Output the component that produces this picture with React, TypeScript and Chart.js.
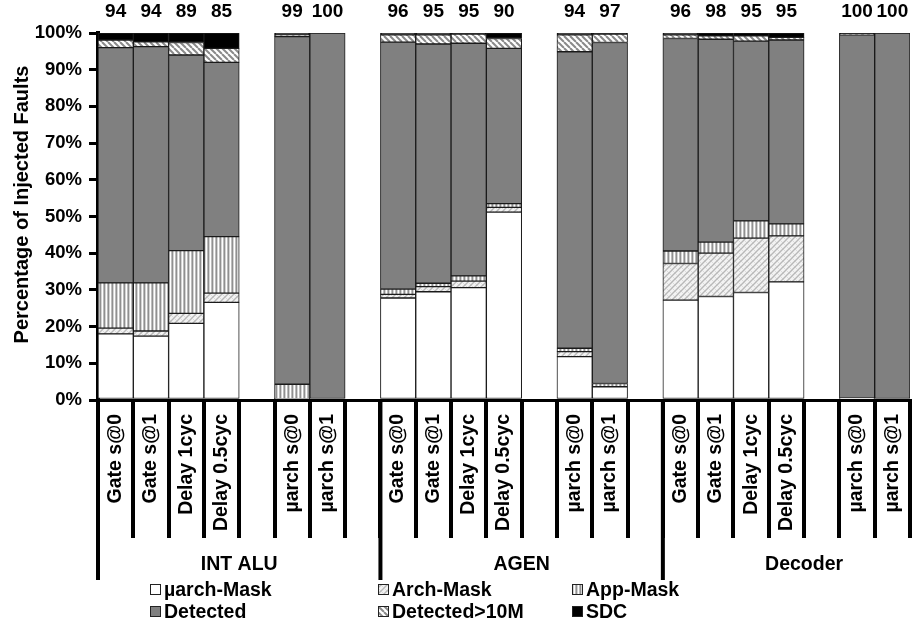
import { useEffect, useRef } from "react";
import { Chart, registerables } from "chart.js";

Chart.register(...registerables);

const categories = [
  "Gate s@0", "Gate s@1", "Delay 1cyc", "Delay 0.5cyc", "", "µarch s@0", "µarch s@1", "",
  "Gate s@0", "Gate s@1", "Delay 1cyc", "Delay 0.5cyc", "", "µarch s@0", "µarch s@1", "",
  "Gate s@0", "Gate s@1", "Delay 1cyc", "Delay 0.5cyc", "", "µarch s@0", "µarch s@1",
];
const groups = ["INT ALU", "AGEN", "Decoder"];
const topLabels = [94, 94, 89, 85, null, 99, 100, null, 96, 95, 95, 90, null, 94, 97, null, 96, 98, 95, 95, null, 100, 100];

const uarchMask = [18.0, 17.4, 20.9, 26.6, null, 0.3, null, null, 27.8, 29.5, 30.6, 51.2, null, 11.8, 3.6, null, 27.2, 28.2, 29.3, 32.2, null, 0.5, null];
const archMask = [1.6, 1.4, 2.7, 2.5, null, null, null, null, 1.0, 1.4, 1.8, 1.3, null, 1.4, null, null, 10.0, 11.8, 14.8, 12.5, null, null, null];
const appMask = [12.3, 13.1, 17.1, 15.4, null, 4.0, null, null, 1.4, 0.9, 1.4, 1.0, null, 0.9, 0.9, null, 3.4, 3.0, 4.7, 3.3, null, null, null];
const detected = [64.1, 64.4, 53.3, 47.5, null, 94.7, 100, null, 67.3, 65.2, 63.4, 42.3, null, 80.8, 92.9, null, 57.9, 55.3, 49.0, 50.1, null, 99.0, 100];
const detected10M = [2.1, 1.3, 3.4, 3.8, null, 0.5, null, null, 2.0, 2.5, 2.5, 2.7, null, 4.6, 2.3, null, 1.0, 0.9, 1.4, 0.7, null, 0.3, null];
const sdc = [1.9, 2.4, 2.6, 4.2, null, 0.5, null, null, 0.5, 0.5, 0.3, 1.5, null, 0.5, 0.3, null, 0.5, 0.8, 0.8, 1.2, null, 0.2, null];

const seriesNames = ["µarch-Mask", "Arch-Mask", "App-Mask", "Detected", "Detected>10M", "SDC"];
const yAxisTitle = "Percentage of Injected Faults";

const FONT = '"Liberation Sans", Arial, Helvetica, sans-serif';

function tile(ctx: CanvasRenderingContext2D, s: number, draw: (c: CanvasRenderingContext2D, s: number) => void) {
  const cv = document.createElement("canvas");
  cv.width = s;
  cv.height = s;
  const c = cv.getContext("2d")!;
  draw(c, s);
  return ctx.createPattern(cv, "repeat")!;
}

function diag(c: CanvasRenderingContext2D, s: number, dir: "/" | "\\", color: string, w: number) {
  c.strokeStyle = color;
  c.lineWidth = w;
  for (let k = -1; k <= 1; k++) {
    c.beginPath();
    if (dir === "\\") {
      c.moveTo(k * s, 0);
      c.lineTo(k * s + s, s);
    } else {
      c.moveTo(k * s, s);
      c.lineTo(k * s + s, 0);
    }
    c.stroke();
  }
}

export default function App() {
  const ref = useRef<HTMLCanvasElement | null>(null);

  useEffect(() => {
    document.body.style.margin = "0";
    const canvas = ref.current!;
    const ctx = canvas.getContext("2d")!;

    const archPat = tile(ctx, 6, (c, s) => {
      c.fillStyle = "#f3f3f3";
      c.fillRect(0, 0, s, s);
      diag(c, s, "\\", "#dcdcdc", 1);
      diag(c, s, "/", "#b8b8b8", 1.3);
    });
    const appPat = tile(ctx, 4, (c) => {
      c.fillStyle = "#909090"; c.fillRect(0, 0, 1, 4);
      c.fillStyle = "#d4d4d4"; c.fillRect(1, 0, 1, 4);
      c.fillStyle = "#ffffff"; c.fillRect(2, 0, 1, 4);
      c.fillStyle = "#bcbcbc"; c.fillRect(3, 0, 1, 4);
    });
    const d10Pat = tile(ctx, 6, (c, s) => {
      c.fillStyle = "#ffffff";
      c.fillRect(0, 0, s, s);
      diag(c, s, "\\", "#8a8a8a", 2);
    });

    const fills: (string | CanvasPattern)[] = ["#ffffff", archPat, appPat, "#808080", d10Pat, "#000000"];
    const values = [uarchMask, archMask, appMask, detected, detected10M, sdc];

    const overlay = {
      id: "overlay",
      afterDraw(chart: any) {
        const c: CanvasRenderingContext2D = chart.ctx;
        const xs = chart.scales.x;
        const ca = chart.chartArea;
        c.save();
        c.fillStyle = "#000";
        c.font = `bold 19px ${FONT}`;
        c.textAlign = "center";
        c.textBaseline = "middle";
        topLabels.forEach((v, i) => {
          if (v == null) return;
          c.fillText(String(v), xs.getPixelForValue(i), ca.top - 21);
        });
        // group separators
        c.strokeStyle = "#000";
        c.lineWidth = 4;
        groups.forEach((_, gi) => {
          const bx = xs.getPixelForValue(gi * 8 - 0.5);
          c.beginPath();
          c.moveTo(bx, ca.bottom);
          c.lineTo(bx, ca.bottom + 180);
          c.stroke();
        });
        // group labels
        c.font = `bold 19.5px ${FONT}`;
        groups.forEach((g, gi) => {
          c.fillText(g, xs.getPixelForValue(gi * 8 + 3.5), ca.bottom + 165);
        });
        // y title
        c.save();
        c.translate(22, (ca.top + ca.bottom) / 2 - 12);
        c.rotate(-Math.PI / 2);
        c.font = `bold 20px ${FONT}`;
        c.fillText(yAxisTitle, 0, 0);
        c.restore();
        // legend
        const cols = [150, 378, 572];
        const rows = [590, 612];
        c.textAlign = "left";
        c.font = `bold 19.5px ${FONT}`;
        seriesNames.forEach((name, i) => {
          const bx = cols[i % 3];
          const by = rows[Math.floor(i / 3)];
          c.fillStyle = fills[i] as any;
          c.fillRect(bx, by - 6, 11, 11);
          c.strokeStyle = "#222";
          c.lineWidth = 1;
          c.strokeRect(bx + 0.5, by - 5.5, 10, 10);
          c.fillStyle = "#000";
          c.fillText(name, bx + 14, by + 1);
        });
        c.restore();
      },
    };

    const chart = new Chart(canvas, {
      type: "bar",
      data: {
        labels: categories,
        datasets: seriesNames.map((name, i) => ({
          label: name,
          data: values[i] as any,
          backgroundColor: fills[i] as any,
          borderColor: "#1a1a1a",
          borderWidth: 1,
          borderSkipped: false as any,
          barPercentage: 1,
          categoryPercentage: 1,
        })),
      },
      options: {
        responsive: false,
        animation: false,
        devicePixelRatio: 1,
        layout: { padding: { top: 33, right: 3, left: 0, bottom: 0 } },
        plugins: { legend: { display: false }, tooltip: { enabled: false } },
        scales: {
          x: {
            stacked: true,
            offset: true,
            grid: {
              offset: true,
              drawOnChartArea: false,
              drawTicks: true,
              tickLength: 138,
              color: "#000",
              lineWidth: 4,
            },
            border: { display: true, color: "#000", width: 3 },
            ticks: {
              autoSkip: false,
              minRotation: 90,
              maxRotation: 90,
              padding: -124,
              color: "#000",
              font: { family: FONT, size: 19.5, weight: "bold" },
            },
            afterFit: (s: any) => {
              s.height = 229;
            },
          },
          y: {
            stacked: true,
            min: 0,
            max: 100,
            grid: {
              drawOnChartArea: false,
              drawTicks: true,
              tickLength: 9,
              color: "#000",
              lineWidth: 3,
            },
            border: { display: true, color: "#000", width: 4 },
            ticks: {
              stepSize: 10,
              padding: 7,
              color: "#000",
              font: { family: FONT, size: 18.5, weight: "bold" },
              callback: (v: any) => `${v}%`,
            },
            afterFit: (s: any) => {
              s.width = 98;
            },
          },
        },
      },
      plugins: [overlay],
    });

    return () => chart.destroy();
  }, []);

  return (
    <div style={{ width: 913, height: 629 }}>
      <canvas ref={ref} width={913} height={629} style={{ display: "block" }} />
    </div>
  );
}
